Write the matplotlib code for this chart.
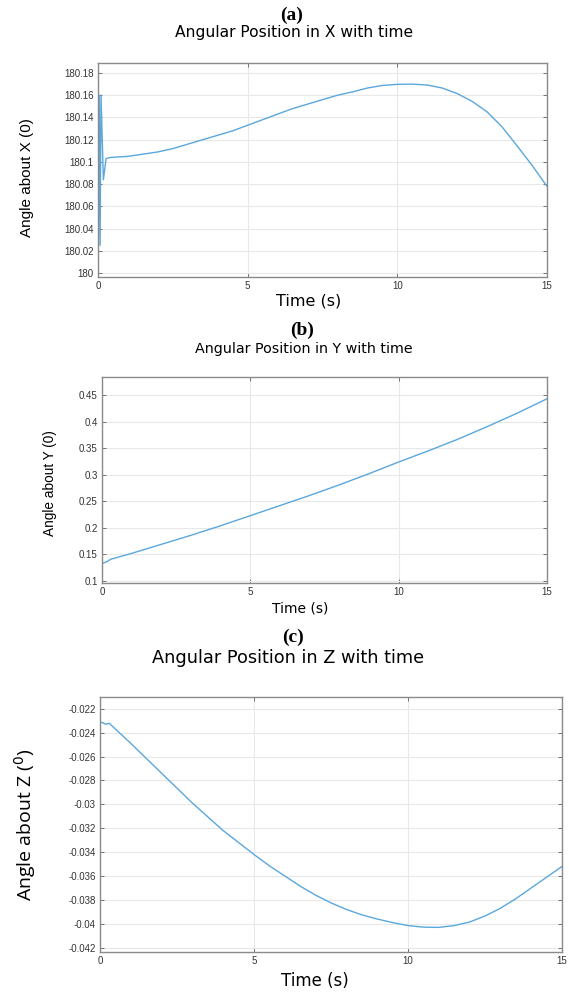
import matplotlib
matplotlib.use("Agg")
import matplotlib.pyplot as plt
import numpy as np

# ---- data ----
t_x = [0.0, 0.01, 0.04, 0.07, 0.10, 0.18, 0.27, 0.4, 1, 1.5, 2, 2.5, 3, 3.5, 4, 4.5, 5, 5.5, 6, 6.5, 7,
       7.5, 8, 8.5, 9, 9.5, 10, 10.5, 11, 11.5, 12, 12.5, 13, 13.5, 14, 14.5, 15]
ang_x = [180.015, 180.015, 180.16, 180.025, 180.16, 180.084, 180.103, 180.104, 180.105, 180.107,
         180.109, 180.112, 180.116, 180.120, 180.124, 180.128, 180.133, 180.138, 180.143, 180.148,
         180.152, 180.156, 180.160, 180.163, 180.1665, 180.1688, 180.1698, 180.170, 180.1692,
         180.1665, 180.1615, 180.1545, 180.145, 180.1315, 180.1145, 180.097, 180.078]

t_y = [0.0, 0.15, 0.3, 1, 2, 3, 4, 5, 6, 7, 8, 9, 10, 11, 12, 13, 14, 15]
ang_y = [0.133, 0.136, 0.141, 0.152, 0.169, 0.186, 0.204, 0.223, 0.242, 0.261, 0.281, 0.302,
         0.324, 0.345, 0.367, 0.391, 0.416, 0.443]

t_z = [0.0, 0.1, 0.18, 0.3, 1, 2, 3, 4, 4.5, 5, 5.5, 6, 6.5, 7, 7.5, 8, 8.5, 9, 9.5, 10, 10.5, 11,
       11.5, 12, 12.5, 13, 13.5, 14, 14.5, 15]
ang_z = [-0.02314, -0.02318, -0.02330, -0.02322, -0.0249, -0.0274, -0.0299, -0.0322, -0.0332,
         -0.0342, -0.03515, -0.0360, -0.03685, -0.0376, -0.03825, -0.0388, -0.03925, -0.0396,
         -0.0399, -0.04015, -0.04028, -0.0403, -0.04015, -0.03985, -0.03935, -0.0387, -0.0379,
         -0.0370, -0.0361, -0.0352]

xticks = [0, 5, 10, 15]
yticks_x = [180, 180.02, 180.04, 180.06, 180.08, 180.1, 180.12, 180.14, 180.16, 180.18]
ylabels_x = ["180", "180.02", "180.04", "180.06", "180.08", "180.1", "180.12", "180.14", "180.16", "180.18"]
yticks_y = [0.1, 0.15, 0.2, 0.25, 0.3, 0.35, 0.4, 0.45]
ylabels_y = ["0.1", "0.15", "0.2", "0.25", "0.3", "0.35", "0.4", "0.45"]
yticks_z = [-0.042, -0.04, -0.038, -0.036, -0.034, -0.032, -0.03, -0.028, -0.026, -0.024, -0.022]
ylabels_z = ["-0.042", "-0.04", "-0.038", "-0.036", "-0.034", "-0.032", "-0.03", "-0.028", "-0.026", "-0.024", "-0.022"]

LINE = "#5aa7de"
W, H = 569, 992
fig = plt.figure(figsize=(W / 100, H / 100), dpi=100)


def fx(px):
    return px / W


def fy(py):
    return 1 - py / H


TICKFONT = ["Liberation Sans", "DejaVu Sans"]


def make_ax(l, r, t, b):
    ax = fig.add_axes([fx(l), fy(b), fx(r) - fx(l), fy(t) - fy(b)])
    for s in ax.spines.values():
        s.set_color("#8a8a8a")
        s.set_linewidth(1.0)
    ax.grid(True, color="#e8e8e8", linewidth=0.8)
    ax.set_axisbelow(True)
    ax.tick_params(direction="in", length=3, width=0.6, color="#606060",
                   labelsize=7, labelcolor="#333333", right=True, top=True, pad=3)
    ax.set_xticks(xticks)
    ax.set_xticklabels([str(v) for v in xticks])
    ax.set_xlim(0, 15)
    return ax


def style_ticks(ax):
    for lab in ax.get_xticklabels() + ax.get_yticklabels():
        lab.set_family(TICKFONT)


TFONT = ["DejaVu Sans"]
NFONT = ["Liberation Sans", "DejaVu Sans"]

# ---- (a) ----
ax1 = make_ax(98, 547, 63, 277)
ax1.plot(t_x, ang_x, color=LINE, lw=1.0)
ax1.set_ylim(179.9965, 180.189)
ax1.set_yticks(yticks_x)
ax1.set_yticklabels(ylabels_x)
style_ticks(ax1)
fig.text(fx(292), fy(15), "(a)", ha="center", va="center", family="Liberation Serif",
         fontweight="bold", fontsize=14)
fig.text(fx(294), fy(33), "Angular Position in X with time", ha="center", va="center",
         family=TFONT, fontsize=11.2)
fig.text(fx(309), fy(301), "Time (s)", ha="center", va="center", family=TFONT, fontsize=11.5)
fig.text(fx(27), fy(178), "Angle about X (0)", ha="center", va="center", rotation=90,
         family=NFONT, fontsize=11)

# ---- (b) ----
ax2 = make_ax(102, 547, 377, 583)
ax2.plot(t_y, ang_y, color=LINE, lw=1.0)
ax2.set_ylim(0.0962, 0.484)
ax2.set_yticks(yticks_y)
ax2.set_yticklabels(ylabels_y)
style_ticks(ax2)
fig.text(fx(302), fy(330), "(b)", ha="center", va="center", family="Liberation Serif",
         fontweight="bold", fontsize=14)
fig.text(fx(304), fy(349), "Angular Position in Y with time", ha="center", va="center",
         family=TFONT, fontsize=10.3)
fig.text(fx(300), fy(609), "Time (s)", ha="center", va="center", family=TFONT, fontsize=10)
fig.text(fx(50), fy(483), "Angle about Y (0)", ha="center", va="center", rotation=90,
         family=NFONT, fontsize=9.8)

# ---- (c) ----
ax3 = make_ax(100, 562, 697, 952)
ax3.plot(t_z, ang_z, color=LINE, lw=1.0)
ax3.set_ylim(-0.04236, -0.02102)
ax3.set_yticks(yticks_z)
ax3.set_yticklabels(ylabels_z)
style_ticks(ax3)
fig.text(fx(293), fy(637), "(c)", ha="center", va="center", family="Liberation Serif",
         fontweight="bold", fontsize=14)
fig.text(fx(288), fy(658), "Angular Position in Z with time", ha="center", va="center",
         family=TFONT, fontsize=12.8)
fig.text(fx(315), fy(981), "Time (s)", ha="center", va="center", family=TFONT, fontsize=12)
fig.text(fx(25), fy(825), "Angle about Z ($^0$)", ha="center", va="center", rotation=90,
         family=["Open Sans", "DejaVu Sans"], fontsize=14)

fig.savefig("out.png", dpi=100)
